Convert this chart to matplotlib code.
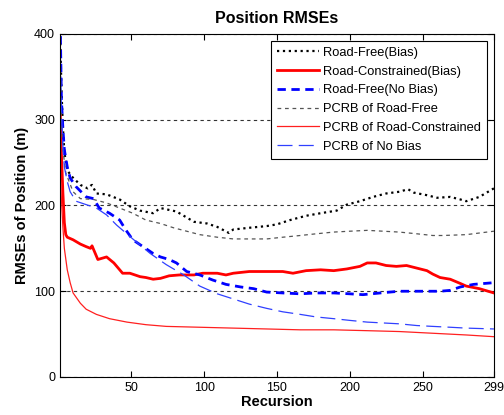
#! /usr/bin/env python3

import matplotlib
matplotlib.use('Agg')
import matplotlib.pyplot as plt

plt.rcParams['font.family'] = ['Liberation Sans', 'DejaVu Sans']

# values
rf_bias_x = [1, 2, 3, 4, 6, 9, 15, 20, 22, 23, 26, 33, 42, 49, 56, 65, 70,
             81, 93, 102, 109, 117, 120, 131, 143, 150, 159, 170, 180, 191,
             198, 207, 216, 225, 234, 240, 244, 253, 260, 269, 276, 280,
             289, 299]
rf_bias_y = [410, 335, 292, 262, 241, 234, 224, 220, 223, 224, 214, 213, 207,
             199, 194, 191, 197, 193, 181, 179, 175, 168, 172, 174, 176, 178,
             183, 188, 191, 194, 201, 205, 210, 214, 216, 219, 215, 212, 209,
             210, 207, 205, 210, 220]

rc_bias_x = [1, 2, 3, 4, 5, 6, 10, 15, 19, 22, 23, 27, 33, 38, 44, 49, 56,
             60, 65, 70, 76, 83, 93, 99, 109, 115, 120, 131, 143, 154, 161,
             170, 180, 189, 198, 207, 212, 218, 225, 232, 239, 246, 253, 257,
             262, 269, 276, 280, 289, 299]
rc_bias_y = [317, 260, 215, 180, 166, 163, 160, 155, 152, 150, 153, 137, 140,
             133, 121, 121, 117, 116, 114, 115, 118, 119, 119, 121, 121, 119,
             121, 123, 123, 123, 121, 124, 125, 124, 126, 129, 133, 133, 130,
             129, 130, 127, 124, 120, 116, 114, 109, 106, 103, 98]

rf_nobias_x = [1, 2, 3, 4, 6, 8, 12, 19, 24, 28, 35, 42, 46, 51, 58, 65, 70,
               76, 81, 88, 97, 106, 115, 125, 134, 143, 154, 166, 177, 189,
               200, 209, 221, 234, 248, 262, 269, 276, 285, 299]
rf_nobias_y = [430, 323, 290, 265, 245, 232, 222, 210, 208, 197, 191, 183,
               172, 160, 152, 144, 140, 137, 133, 123, 119, 113, 108, 105,
               103, 99, 98, 97, 98, 98, 97, 96, 98, 100, 100, 100, 101, 105,
               108, 110]

pcrb_rf_x = [1, 2, 3, 5, 10, 15, 24, 33, 42, 51, 60, 70, 79, 88, 97, 109,
             120, 131, 143, 154, 166, 177, 189, 200, 212, 223, 234, 246, 257,
             264, 280, 299]
pcrb_rf_y = [380, 300, 265, 238, 216, 208, 207, 203, 197, 191, 183, 179, 174,
             170, 166, 163, 161, 161, 161, 163, 165, 167, 169, 170, 171, 170,
             169, 167, 165, 165, 166, 170]

pcrb_rc_x = [1, 2, 3, 4, 6, 8, 10, 15, 19, 26, 35, 47, 60, 74, 97, 120, 143,
             166, 189, 212, 234, 257, 280, 299]
pcrb_rc_y = [250, 207, 175, 150, 125, 110, 98, 86, 79, 73, 68, 64, 61, 59,
             58, 57, 56, 55, 55, 54, 53, 51, 49, 47]

pcrb_nb_x = [1, 2, 3, 4, 6, 8, 12, 19, 26, 33, 40, 51, 63, 74, 86, 97, 109,
             120, 131, 143, 154, 166, 177, 189, 200, 212, 223, 234, 246, 257,
             269, 280, 299]
pcrb_nb_y = [400, 310, 270, 245, 228, 216, 205, 201, 197, 189, 177, 161, 144,
             131, 119, 106, 97, 91, 85, 80, 76, 73, 70, 68, 66, 64, 63, 62,
             60, 59, 58, 57, 56]

xticks = [50, 100, 150, 200, 250, 299]
yticks = [0, 100, 200, 300, 400]


def main():
    fig = plt.figure(figsize=(5.04, 4.15), dpi=100)
    ax = fig.add_axes([0.119, 0.0916, 0.861, 0.8265])

    ax.plot(rf_bias_x, rf_bias_y, ls=':', c='k', lw=1.6,
            label='Road-Free(Bias)')
    ax.plot(rc_bias_x, rc_bias_y, ls='-', c='#ff0000', lw=2,
            label='Road-Constrained(Bias)')
    ax.plot(rf_nobias_x, rf_nobias_y, ls=(0, (3, 2)), c='#0000ff', lw=2,
            label='Road-Free(No Bias)')
    ax.plot(pcrb_rf_x, pcrb_rf_y, ls=(0, (3, 3)), c='#555555', lw=0.9,
            label='PCRB of Road-Free')
    ax.plot(pcrb_rc_x, pcrb_rc_y, ls='-', c='#ff2020', lw=0.9,
            label='PCRB of Road-Constrained')
    ax.plot(pcrb_nb_x, pcrb_nb_y, ls=(0, (12, 5)), c='#3040ff', lw=0.9,
            label='PCRB of No Bias')

    ax.set_xlim(1, 299)
    ax.set_ylim(0, 400)
    ax.set_xticks(xticks)
    ax.set_yticks(yticks)
    ax.tick_params(direction='in', top=True, right=True, length=4,
                   labelsize=9, width=0.8)
    ax.yaxis.grid(True, ls=(0, (3, 3)), c='#333333', lw=0.8)
    ax.set_axisbelow(True)

    ax.set_title('Position RMSEs', fontsize=11.5, fontweight='bold', pad=8)
    ax.set_xlabel('Recursion', fontsize=10.5, fontweight='bold', labelpad=1)
    ax.set_ylabel('RMSEs of Position (m)', fontsize=10.5, fontweight='bold',
                  labelpad=4)

    leg = ax.legend(loc='upper right', fontsize=9.3, fancybox=False,
                    framealpha=1, edgecolor='k', handlelength=3.3,
                    handletextpad=0.3, borderaxespad=0.55, labelspacing=0.52,
                    borderpad=0.45)
    leg.get_frame().set_linewidth(0.8)

    fig.savefig('out.png', dpi=100)


if __name__ == '__main__':
    main()
